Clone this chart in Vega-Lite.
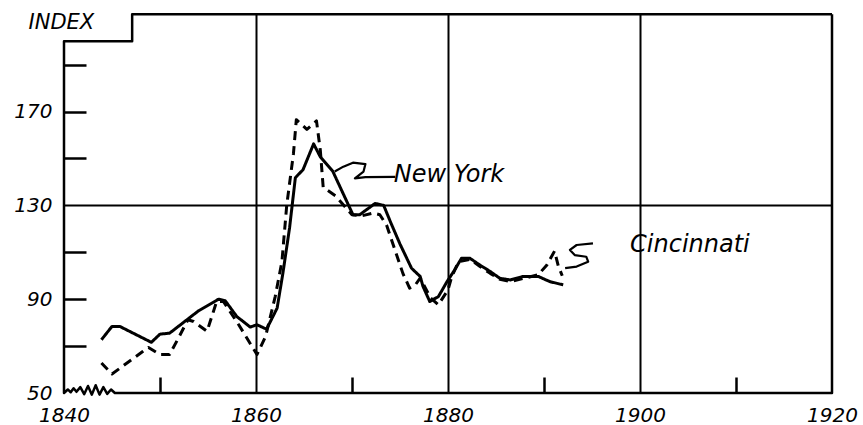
{
  "$schema": "https://vega.github.io/schema/vega-lite/v6.json",
  "width": 768,
  "height": 380,
  "autosize": {"type": "none"},
  "padding": {"left": 64, "top": 13, "right": 31, "bottom": 32},
  "background": "white",
  "config": {
    "view": {"stroke": null},
    "axis": {
      "labelFont": "DejaVu Sans",
      "labelFontStyle": "italic",
      "labelFontSize": 20,
      "labelColor": "black",
      "titleFont": "DejaVu Sans",
      "titleColor": "black"
    }
  },
  "datasets": {
    "series": [
      {"city": "New York", "year": 1843.9, "value": 72.7},
      {"city": "New York", "year": 1845.0, "value": 78.4},
      {"city": "New York", "year": 1845.8, "value": 78.4},
      {"city": "New York", "year": 1849.1, "value": 71.6},
      {"city": "New York", "year": 1850.0, "value": 75.1},
      {"city": "New York", "year": 1851.0, "value": 75.5},
      {"city": "New York", "year": 1852.8, "value": 81.2},
      {"city": "New York", "year": 1854.0, "value": 85.0},
      {"city": "New York", "year": 1856.1, "value": 90.0},
      {"city": "New York", "year": 1856.8, "value": 89.3},
      {"city": "New York", "year": 1858.0, "value": 82.6},
      {"city": "New York", "year": 1859.4, "value": 78.1},
      {"city": "New York", "year": 1860.1, "value": 79.1},
      {"city": "New York", "year": 1861.1, "value": 77.2},
      {"city": "New York", "year": 1862.2, "value": 86.2},
      {"city": "New York", "year": 1862.8, "value": 101.0},
      {"city": "New York", "year": 1863.5, "value": 120.5},
      {"city": "New York", "year": 1864.1, "value": 141.8},
      {"city": "New York", "year": 1864.9, "value": 145.2},
      {"city": "New York", "year": 1866.0, "value": 156.2},
      {"city": "New York", "year": 1866.7, "value": 150.7},
      {"city": "New York", "year": 1868.0, "value": 144.5},
      {"city": "New York", "year": 1870.1, "value": 126.0},
      {"city": "New York", "year": 1870.8, "value": 126.0},
      {"city": "New York", "year": 1872.4, "value": 130.8},
      {"city": "New York", "year": 1873.3, "value": 130.0},
      {"city": "New York", "year": 1874.0, "value": 123.0},
      {"city": "New York", "year": 1875.0, "value": 113.5},
      {"city": "New York", "year": 1876.2, "value": 103.2},
      {"city": "New York", "year": 1877.1, "value": 99.7},
      {"city": "New York", "year": 1877.4, "value": 95.4},
      {"city": "New York", "year": 1878.1, "value": 89.0},
      {"city": "New York", "year": 1879.0, "value": 91.1},
      {"city": "New York", "year": 1879.9, "value": 97.5},
      {"city": "New York", "year": 1880.7, "value": 102.5},
      {"city": "New York", "year": 1881.4, "value": 107.4},
      {"city": "New York", "year": 1882.3, "value": 107.4},
      {"city": "New York", "year": 1883.3, "value": 104.6},
      {"city": "New York", "year": 1884.4, "value": 101.8},
      {"city": "New York", "year": 1885.4, "value": 98.9},
      {"city": "New York", "year": 1886.5, "value": 98.2},
      {"city": "New York", "year": 1887.8, "value": 99.7},
      {"city": "New York", "year": 1889.4, "value": 99.7},
      {"city": "New York", "year": 1890.6, "value": 97.5},
      {"city": "New York", "year": 1892.0, "value": 96.1},
      {"city": "Cincinnati", "year": 1843.9, "value": 62.8},
      {"city": "Cincinnati", "year": 1845.0, "value": 58.1},
      {"city": "Cincinnati", "year": 1846.1, "value": 61.4},
      {"city": "Cincinnati", "year": 1848.2, "value": 67.7},
      {"city": "Cincinnati", "year": 1848.8, "value": 69.4},
      {"city": "Cincinnati", "year": 1850.0, "value": 66.4},
      {"city": "Cincinnati", "year": 1851.0, "value": 66.4},
      {"city": "Cincinnati", "year": 1852.1, "value": 74.8},
      {"city": "Cincinnati", "year": 1852.9, "value": 81.2},
      {"city": "Cincinnati", "year": 1853.5, "value": 80.5},
      {"city": "Cincinnati", "year": 1854.9, "value": 76.3},
      {"city": "Cincinnati", "year": 1855.9, "value": 89.0},
      {"city": "Cincinnati", "year": 1856.6, "value": 89.0},
      {"city": "Cincinnati", "year": 1858.2, "value": 79.1},
      {"city": "Cincinnati", "year": 1860.1, "value": 66.4},
      {"city": "Cincinnati", "year": 1861.0, "value": 74.1},
      {"city": "Cincinnati", "year": 1862.0, "value": 91.1},
      {"city": "Cincinnati", "year": 1862.7, "value": 106.0},
      {"city": "Cincinnati", "year": 1863.2, "value": 130.0},
      {"city": "Cincinnati", "year": 1863.9, "value": 152.0},
      {"city": "Cincinnati", "year": 1864.2, "value": 166.5},
      {"city": "Cincinnati", "year": 1865.3, "value": 162.4},
      {"city": "Cincinnati", "year": 1866.3, "value": 166.0},
      {"city": "Cincinnati", "year": 1866.7, "value": 153.5},
      {"city": "Cincinnati", "year": 1867.0, "value": 137.7},
      {"city": "Cincinnati", "year": 1868.3, "value": 134.0},
      {"city": "Cincinnati", "year": 1870.0, "value": 126.0},
      {"city": "Cincinnati", "year": 1871.0, "value": 125.5},
      {"city": "Cincinnati", "year": 1872.2, "value": 126.7},
      {"city": "Cincinnati", "year": 1872.9, "value": 126.0},
      {"city": "Cincinnati", "year": 1873.6, "value": 121.6},
      {"city": "Cincinnati", "year": 1874.3, "value": 113.1},
      {"city": "Cincinnati", "year": 1875.3, "value": 101.0},
      {"city": "Cincinnati", "year": 1876.0, "value": 94.7},
      {"city": "Cincinnati", "year": 1876.6, "value": 96.1},
      {"city": "Cincinnati", "year": 1877.1, "value": 99.0},
      {"city": "Cincinnati", "year": 1878.2, "value": 90.5},
      {"city": "Cincinnati", "year": 1879.0, "value": 87.6},
      {"city": "Cincinnati", "year": 1880.0, "value": 94.0},
      {"city": "Cincinnati", "year": 1880.4, "value": 99.7},
      {"city": "Cincinnati", "year": 1881.1, "value": 106.0},
      {"city": "Cincinnati", "year": 1882.3, "value": 107.0},
      {"city": "Cincinnati", "year": 1883.3, "value": 104.0},
      {"city": "Cincinnati", "year": 1884.4, "value": 101.0},
      {"city": "Cincinnati", "year": 1885.4, "value": 98.5},
      {"city": "Cincinnati", "year": 1886.5, "value": 97.5},
      {"city": "Cincinnati", "year": 1887.8, "value": 98.8},
      {"city": "Cincinnati", "year": 1889.4, "value": 100.4},
      {"city": "Cincinnati", "year": 1890.3, "value": 104.6},
      {"city": "Cincinnati", "year": 1891.1, "value": 110.5},
      {"city": "Cincinnati", "year": 1891.5, "value": 104.0},
      {"city": "Cincinnati", "year": 1891.9, "value": 100.0}
    ],
    "frame": [
      {"i": 0, "fx": 1920, "fy": 211.5},
      {"i": 1, "fx": 1847.1, "fy": 211.5},
      {"i": 2, "fx": 1847.1, "fy": 200},
      {"i": 3, "fx": 1840, "fy": 200},
      {"i": 4, "fx": 1840, "fy": 50},
      {"i": 5, "fx": 1840.4, "fy": 51.5},
      {"i": 6, "fx": 1840.7, "fy": 50.3},
      {"i": 7, "fx": 1841.0, "fy": 52},
      {"i": 8, "fx": 1841.3, "fy": 50.5},
      {"i": 9, "fx": 1841.7, "fy": 52.5},
      {"i": 10, "fx": 1842.1, "fy": 49.5},
      {"i": 11, "fx": 1842.5, "fy": 53},
      {"i": 12, "fx": 1842.9, "fy": 49.3},
      {"i": 13, "fx": 1843.3, "fy": 53.3},
      {"i": 14, "fx": 1843.7, "fy": 49.3},
      {"i": 15, "fx": 1844.1, "fy": 52.5},
      {"i": 16, "fx": 1844.5, "fy": 49.6},
      {"i": 17, "fx": 1844.9, "fy": 51.5},
      {"i": 18, "fx": 1845.3, "fy": 50},
      {"i": 19, "fx": 1845.6, "fy": 50},
      {"i": 20, "fx": 1920, "fy": 50},
      {"i": 21, "fx": 1920, "fy": 211.5}
    ],
    "leaders": [
      {"leader": "New York", "i": 0, "lx": 1868.2, "ly": 144.4},
      {"leader": "New York", "i": 1, "lx": 1869.1, "ly": 146.5},
      {"leader": "New York", "i": 2, "lx": 1870.1, "ly": 148.2},
      {"leader": "New York", "i": 3, "lx": 1871.4, "ly": 147.6},
      {"leader": "New York", "i": 4, "lx": 1871.2, "ly": 144.4},
      {"leader": "New York", "i": 5, "lx": 1870.3, "ly": 141.5},
      {"leader": "New York", "i": 6, "lx": 1871.4, "ly": 142.0},
      {"leader": "New York", "i": 7, "lx": 1874.5, "ly": 142.1},
      {"leader": "Cincinnati", "i": 0, "lx": 1895.1, "ly": 113.8},
      {"leader": "Cincinnati", "i": 1, "lx": 1893.4, "ly": 113.1},
      {"leader": "Cincinnati", "i": 2, "lx": 1892.7, "ly": 111.0},
      {"leader": "Cincinnati", "i": 3, "lx": 1893.2, "ly": 108.8},
      {"leader": "Cincinnati", "i": 4, "lx": 1894.4, "ly": 108.1},
      {"leader": "Cincinnati", "i": 5, "lx": 1894.6, "ly": 106.0},
      {"leader": "Cincinnati", "i": 6, "lx": 1893.4, "ly": 103.9},
      {"leader": "Cincinnati", "i": 7, "lx": 1892.2, "ly": 103.2}
    ],
    "labels": [
      {"name": "New York", "tx": 1880.1, "ty": 142.9},
      {"name": "Cincinnati", "tx": 1905.2, "ty": 113.3}
    ]
  },
  "layer": [
    {
      "data": {"name": "series"},
      "mark": {"type": "line", "color": "black", "strokeWidth": 3, "strokeJoin": "round", "strokeCap": "butt"},
      "encoding": {
        "x": {
          "field": "year", "type": "quantitative",
          "scale": {"domain": [1840, 1920], "nice": false, "zero": false},
          "axis": {
            "title": null,
            "values": [1840, 1850, 1860, 1870, 1880, 1890, 1900, 1910, 1920],
            "format": "d",
            "labelExpr": "datum.value % 20 === 0 ? datum.label : ''",
            "labelFlush": false,
            "labelOverlap": false,
            "labelPadding": 28,
            "domain": false,
            "ticks": true,
            "tickSize": -16,
            "tickWidth": 2.5,
            "tickColor": "black",
            "tickOpacity": {"condition": {"test": "datum.value % 20 === 0", "value": 0}, "value": 1},
            "grid": true,
            "gridColor": "black",
            "gridWidth": 2,
            "gridOpacity": {"condition": {"test": "datum.value === 1860 || datum.value === 1880 || datum.value === 1900", "value": 1}, "value": 0}
          }
        },
        "y": {
          "field": "value", "type": "quantitative",
          "scale": {"domain": [50, 212], "nice": false, "zero": false},
          "axis": {
            "values": [50, 70, 90, 110, 130, 150, 170, 190],
            "labelExpr": "(datum.value - 50) % 40 === 0 ? datum.label : ''",
            "labelOverlap": false,
            "labelPadding": 34,
            "labelFlush": false,
            "domain": false,
            "ticks": true,
            "tickSize": -22,
            "tickWidth": 2.5,
            "tickColor": "black",
            "tickOpacity": {"condition": {"test": "datum.value === 50 || datum.value === 130", "value": 0}, "value": 1},
            "grid": true,
            "gridColor": "black",
            "gridWidth": 2,
            "gridOpacity": {"condition": {"test": "datum.value === 130", "value": 1}, "value": 0},
            "title": "INDEX",
            "titleAngle": 0,
            "titleX": -36,
            "titleY": 15,
            "titleAlign": "left",
            "titleBaseline": "alphabetic",
            "titleFontStyle": "italic",
            "titleFontWeight": "normal",
            "titleFontSize": 21
          }
        },
        "strokeDash": {
          "field": "city", "type": "nominal",
          "scale": {"domain": ["New York", "Cincinnati"], "range": [[1, 0], [9, 6]]},
          "legend": null
        }
      }
    },
    {
      "data": {"name": "frame"},
      "mark": {"type": "line", "color": "black", "strokeWidth": 2.5, "strokeJoin": "round"},
      "encoding": {
        "x": {"field": "fx", "type": "quantitative"},
        "y": {"field": "fy", "type": "quantitative"},
        "order": {"field": "i", "type": "quantitative"}
      }
    },
    {
      "data": {"name": "leaders"},
      "mark": {"type": "line", "color": "black", "strokeWidth": 2.2, "strokeJoin": "round", "interpolate": "linear"},
      "encoding": {
        "x": {"field": "lx", "type": "quantitative"},
        "y": {"field": "ly", "type": "quantitative"},
        "detail": {"field": "leader", "type": "nominal"},
        "order": {"field": "i", "type": "quantitative"}
      }
    },
    {
      "data": {"name": "labels"},
      "mark": {"type": "text", "font": "DejaVu Sans", "fontStyle": "italic", "fontSize": 24, "align": "center", "baseline": "middle", "color": "black"},
      "encoding": {
        "x": {"field": "tx", "type": "quantitative"},
        "y": {"field": "ty", "type": "quantitative"},
        "text": {"field": "name", "type": "nominal"}
      }
    }
  ]
}
